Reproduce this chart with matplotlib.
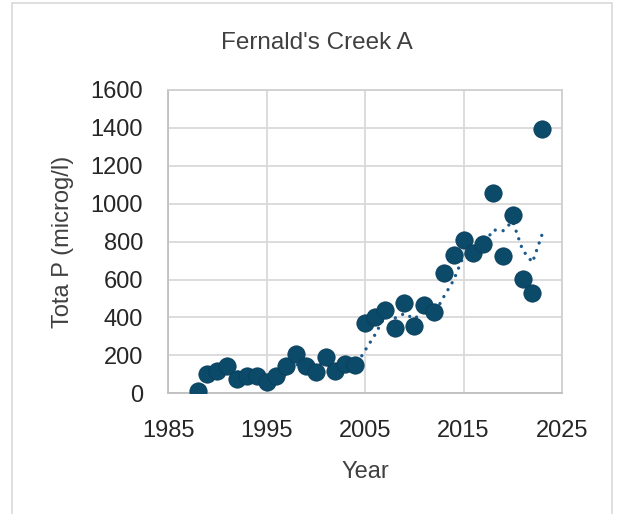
import matplotlib
matplotlib.use("Agg")
import matplotlib.pyplot as plt
from matplotlib.patches import Rectangle
import numpy as np
import pandas as pd

plt.rcParams['font.family'] = ['Liberation Sans', 'DejaVu Sans']

years = [1988, 1989, 1990, 1991, 1992, 1993, 1994, 1995, 1996, 1997, 1998, 1999,
         2000, 2001, 2002, 2003, 2004, 2005, 2006, 2007, 2008, 2009, 2010, 2011,
         2012, 2013, 2014, 2015, 2016, 2017, 2018, 2019, 2020, 2021, 2022, 2023]
total_p = [12, 102, 119, 146, 75, 93, 93, 58, 93, 146, 207, 146,
           111, 193, 119, 155, 150, 372, 401, 441, 346, 475, 357, 466,
           427, 636, 728, 808, 742, 786, 1058, 726, 940, 601, 531, 1392]

x_ticks = [1985, 1995, 2005, 2015, 2025]
y_ticks = [0, 200, 400, 600, 800, 1000, 1200, 1400, 1600]

title = "Fernald's Creek A"
x_label = "Year"
y_label = "Tota P (microg/l)"

trend = pd.Series(total_p, index=years).rolling(3).mean()

fig = plt.figure(figsize=(6.21, 5.14), dpi=100)
fig.patch.set_facecolor('white')
fig.patches.append(Rectangle((12 / 621, -0.05), 600 / 621, 1.05 - 3 / 514,
                             transform=fig.transFigure, fill=False,
                             edgecolor='#d9d9d9', linewidth=1.2, zorder=0))

ax = fig.add_axes([168 / 621, (514 - 393.3) / 514, 394 / 621, 303.3 / 514])

ax.plot(trend.index, trend.values, color='#1a5a8e', linewidth=2.4,
        linestyle=(0, (0.01, 2.4)), dash_capstyle='round', zorder=3)
ax.scatter(years, total_p, s=155, color='#0c4a6a', edgecolors='#0a3f5c',
           linewidths=0.6, zorder=4)

ax.set_xlim(1985, 2025)
ax.set_ylim(0, 1600)
ax.set_xticks(x_ticks)
ax.set_yticks(y_ticks)
ax.grid(True, color='#d9d9d9', linewidth=1.3)
ax.set_axisbelow(True)
for name, sp in ax.spines.items():
    sp.set_color('#d0d0d0')
    sp.set_linewidth(1.3)
ax.spines['left'].set_color('#bfbfbf')
ax.spines['bottom'].set_color('#bfbfbf')

ax.tick_params(axis='both', length=0, labelsize=17, colors='#262626')
ax.tick_params(axis='x', pad=19)
ax.tick_params(axis='y', pad=18)

ax.set_xlabel(x_label, fontsize=17, color='#404040', labelpad=14)
ax.set_ylabel(y_label, fontsize=17, color='#404040', labelpad=12)

fig.text(317 / 621, 1 - 43 / 514, title, fontsize=17.5, color='#404040',
         ha='center', va='center')

fig.savefig('out.png', dpi=100)
